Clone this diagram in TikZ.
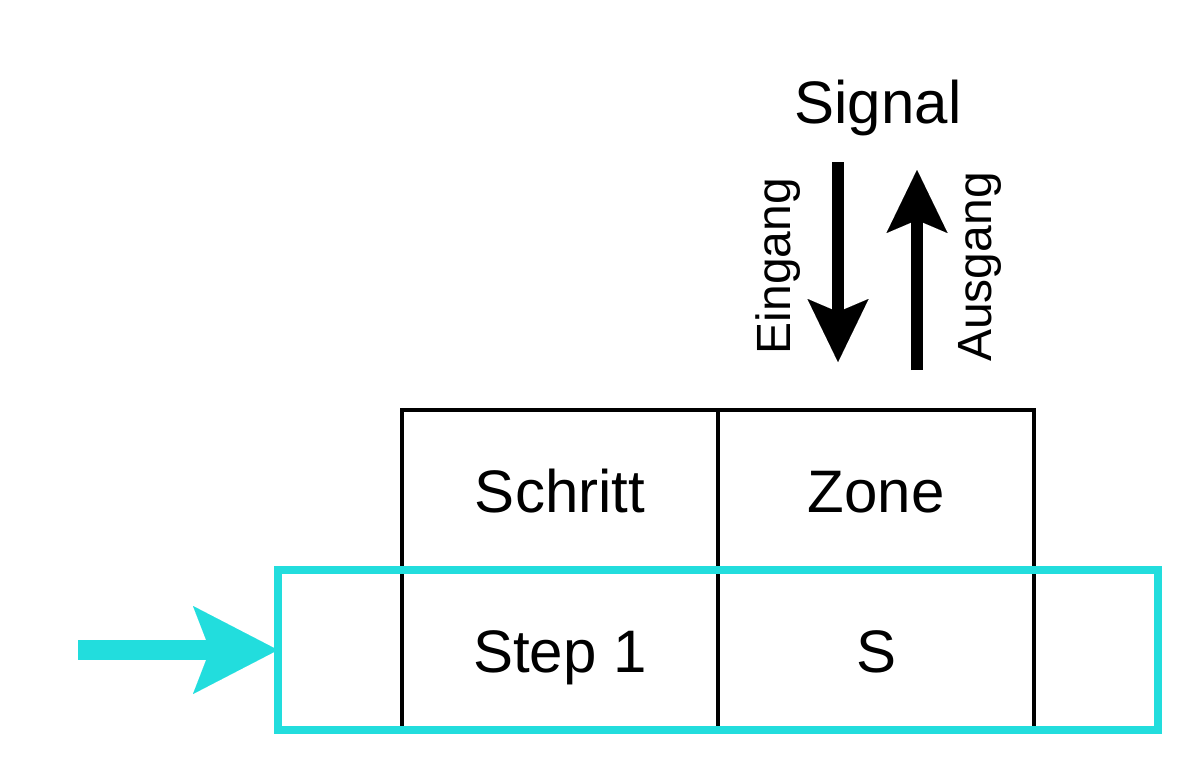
\documentclass[tikz,border=0pt]{standalone}
\usepackage{fontspec}
\setmainfont{Liberation Sans}
\usetikzlibrary{arrows.meta}
\definecolor{cyanline}{RGB}{34,221,221}
\begin{document}
\begin{tikzpicture}[x=1pt,y=-1pt,
  cell/.style={draw=black,line width=4pt,minimum width=316pt,minimum height=160pt,inner sep=0pt,outer sep=0pt,anchor=north west,text height=44pt,text depth=0pt,font=\fontsize{60}{72}\selectfont},
  selbox/.style={draw=cyanline,line width=8pt,minimum width=880pt,minimum height=160pt,inner sep=0pt,outer sep=0pt,anchor=north west},
  biglabel/.style={font=\fontsize{60}{72}\selectfont,inner sep=0pt,anchor=base},
  sidelabel/.style={font=\fontsize{48}{58}\selectfont,inner sep=0pt,rotate=90,anchor=base},
  sigarrow/.style={line width=12pt,-{Stealth[length=63pt,width=61pt,inset=13pt,line width=0.01pt]}},
  inarrow/.style={draw=cyanline,line width=20pt,-{Stealth[length=85pt,width=88pt,inset=17pt,line width=0.01pt]}}
]
\useasboundingbox (0,0) rectangle (1204,776);
\node[cell] (schritt) at (402,410) {Schritt};
\node[cell] (zone) at (718,410) {Zone};
\node[cell] (step) at (402,570) {Step 1};
\node[cell] (s) at (718,570) {S};
\node[selbox] (sel) at (278,570) {};
\coordinate (instart) at (78,650);
\draw[inarrow] (instart) -- (sel.west);
\node[biglabel] (signal) at (878,123) {Signal};
\coordinate (einA) at (838,162);
\coordinate (einB) at (838,362);
\coordinate (ausA) at (917,370);
\coordinate (ausB) at (917,170);
\draw[sigarrow] (einA) -- (einB);
\draw[sigarrow] (ausA) -- (ausB);
\node[sidelabel] (eingang) at (790,266) {Eingang};
\node[sidelabel] (ausgang) at (991,267) {Ausgang};
\end{tikzpicture}
\end{document}
